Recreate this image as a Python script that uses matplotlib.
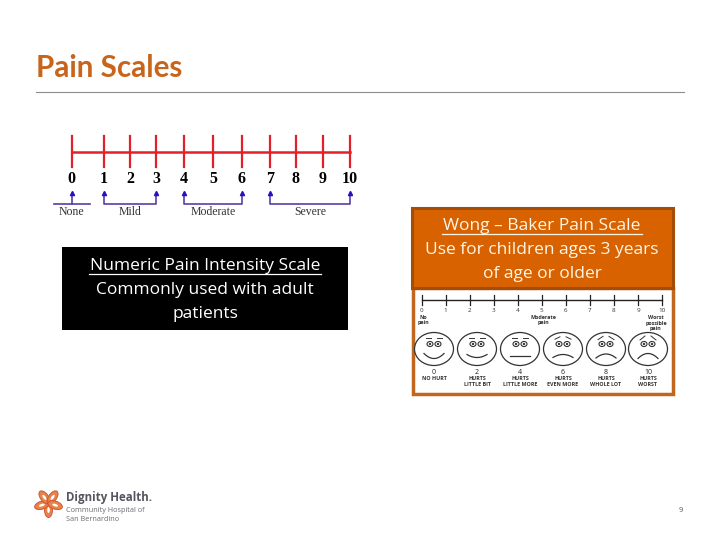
import numpy as np
import matplotlib
matplotlib.use("Agg")
import matplotlib.pyplot as plt
from matplotlib.patches import Rectangle, Ellipse

# Slide text
title = "Pain Scales"
left_caption = ["Numeric Pain Intensity Scale", "Commonly used with adult", "patients"]
right_caption = ["Wong \u2013 Baker Pain Scale", "Use for children ages 3 years", "of age or older"]
page_number = "9"

# Numeric scale
numeric_labels = ["0", "1", "2", "3", "4", "5", "6", "7", "8", "9", "10"]
numeric_x = [71.5, 103.5, 130, 156, 184, 213, 242, 270, 296, 323, 350]
groups = ["None", "Mild", "Moderate", "Severe"]
group_start = [0, 1, 4, 7]
group_end = [0, 3, 6, 10]

# Wong-Baker scale
wong_ticks = [0, 1, 2, 3, 4, 5, 6, 7, 8, 9, 10]
face_scores = [0, 2, 4, 6, 8, 10]
face_text = [["NO HURT"], ["HURTS", "LITTLE BIT"], ["HURTS", "LITTLE MORE"],
             ["HURTS", "EVEN MORE"], ["HURTS", "WHOLE LOT"], ["HURTS", "WORST"]]
face_x = [434, 477, 520, 563, 606, 648]
mouth_curve = [5, 3, 0, -3, -4, -5]

ORANGE = "#D86200"
DARK_ORANGE = "#A34E08"
FRAME = "#C0661E"
TITLE_COL = "#C8651B"
RED = "#E3202A"
PURPLE = "#5A3DA8"

plt.rcParams["font.family"] = ["Open Sans", "DejaVu Sans"]

fig = plt.figure(figsize=(7.2, 5.4), dpi=100)
ax = fig.add_axes([0, 0, 1, 1])
ax.set_xlim(0, 720)
ax.set_ylim(540, 0)
ax.axis("off")

# Header
ax.text(36, 68, title, fontsize=21.3, fontweight="bold", family="Lato", color=TITLE_COL, va="center")
ax.plot([36, 684], [91.5, 91.5], color="#8c8c8c", lw=0.8)

# Numeric scale
ax.plot([numeric_x[0], numeric_x[-1]], [152, 152], color=RED, lw=1.8)
for x, lab in zip(numeric_x, numeric_labels):
    ax.plot([x, x], [136, 167], color=RED, lw=1.6)
    ax.text(x, 179, lab, family="Liberation Serif", fontweight="bold", fontsize=11.5, ha="center", va="center")

for name, a, b in zip(groups, group_start, group_end):
    x0, x1 = numeric_x[a], numeric_x[b]
    if a == b:
        ax.plot([x0 - 18, x0 + 18], [204, 204], color=PURPLE, lw=1.2)
        ax.plot([x0, x0], [195, 204], color=PURPLE, lw=1.2)
        ax.plot(x0, 193, marker="^", ms=3, color="#2a10c0")
    else:
        ax.plot([x0, x0, x1, x1], [195, 204, 204, 195], color=PURPLE, lw=1.2)
        ax.plot([x0, x1], [193, 193], ls="none", marker="^", ms=3, color="#2a10c0")
    ax.text((x0 + x1) / 2, 212, name, family="Liberation Serif", fontsize=8.5, color="#333333",
            ha="center", va="center")

# Black caption box
ax.add_patch(Rectangle((62, 247), 286, 83, fc="black", ec="none"))
for i, line in enumerate(left_caption):
    ax.text(205, 266 + i * 24, line, color="white", fontsize=12.5, ha="center", va="center")
ax.plot([89, 321], [274, 274], color="white", lw=0.9)

# Wong-Baker picture frame and orange caption box
ax.add_patch(Rectangle((412.5, 288), 260, 105.5, fc="white", ec=FRAME, lw=2.5))
ax.add_patch(Rectangle((412, 208), 261, 80, fc=ORANGE, ec=DARK_ORANGE, lw=2.2))
for i, line in enumerate(right_caption):
    ax.text(542, 226 + i * 24, line, color="#FFF6E8", fontsize=12.5, ha="center", va="center")
ax.plot([442, 642], [234, 234], color="#FFF6E8", lw=0.9)

# Wong-Baker scale
wx0, wx1 = 421.5, 662
wong_x = np.interp(wong_ticks, [wong_ticks[0], wong_ticks[-1]], [wx0, wx1])
ax.plot([wx0, wx1], [299.5, 299.5], color="#222222", lw=1)
for x, t in zip(wong_x, wong_ticks):
    ax.plot([x, x], [295, 305], color="#222222", lw=0.9)
    ax.text(x, 310.5, str(t), fontsize=4.5, ha="center", va="center", color="#333333")
small = dict(fontsize=3.9, ha="center", va="center", color="#333333", fontweight="bold")
ax.text(423, 320, "No\npain", linespacing=1.1, **small)
ax.text(543, 320, "Moderate\npain", linespacing=1.1, **small)
ax.text(656, 323, "Worst\npossible\npain", linespacing=1.1, **small)

# Faces
for x, score, lines, m in zip(face_x, face_scores, face_text, mouth_curve):
    cy = 349
    ax.add_patch(Ellipse((x, cy), 39, 33, fc="white", ec="#333333", lw=0.9))
    for dx in (-4, 4):
        ax.add_patch(Ellipse((x + dx, cy - 5), 6, 5, fc="white", ec="#333333", lw=0.8))
        ax.add_patch(Ellipse((x + dx, cy - 5), 2.4, 2.2, fc="#333333", ec="none"))
    ax.plot([x - 8, x - 3], [cy - 11 + min(m, 0) * 0.4 * -1, cy - 11 + min(m, 0) * 0.4], color="#333333", lw=0.7)
    ax.plot([x + 3, x + 8], [cy - 11 + min(m, 0) * 0.4, cy - 11 + min(m, 0) * 0.4 * -1], color="#333333", lw=0.7)
    xs = np.linspace(-10, 10, 20)
    ax.plot(x + xs, cy + 7 + m * 0.5 - m * (xs / 10) ** 2, color="#333333", lw=0.9)
    ax.text(x, 372.5, str(score), fontsize=5, ha="center", va="center", color="#222222")
    for j, t in enumerate(lines):
        ax.text(x, 379 + j * 6, t, fontsize=3.9, fontweight="bold", ha="center", va="center", color="#333333")

# Logo
for ang in np.arange(0, 360, 72):
    r = np.deg2rad(ang + 90)
    cx, cy = 48.5 + 7 * np.cos(r), 503 + 7 * np.sin(r)
    ax.add_patch(Ellipse((cx, cy), 15, 8, angle=ang + 90, fc="#E8824A", ec="#C9502A", lw=0.6))
for ang in np.arange(0, 360, 72):
    r = np.deg2rad(ang + 90)
    cx, cy = 48.5 + 7 * np.cos(r), 503 + 7 * np.sin(r)
    ax.add_patch(Ellipse((cx, cy), 6, 2.5, angle=ang + 90, fc="white", ec="none"))
ax.text(66, 497, "Dignity Health.", family="Open Sans", fontweight="bold", fontsize=8.3, color="#555560", va="center")
ax.text(66, 510, "Community Hospital of", family="Open Sans", fontsize=5.2, color="#6a6a72", va="center")
ax.text(66, 519.5, "San Bernardino", family="Open Sans", fontsize=5.2, color="#6a6a72", va="center")

ax.text(681, 510, page_number, fontsize=5.5, color="#555555", ha="center", va="center")

fig.savefig("out.png", dpi=100, facecolor="white")
